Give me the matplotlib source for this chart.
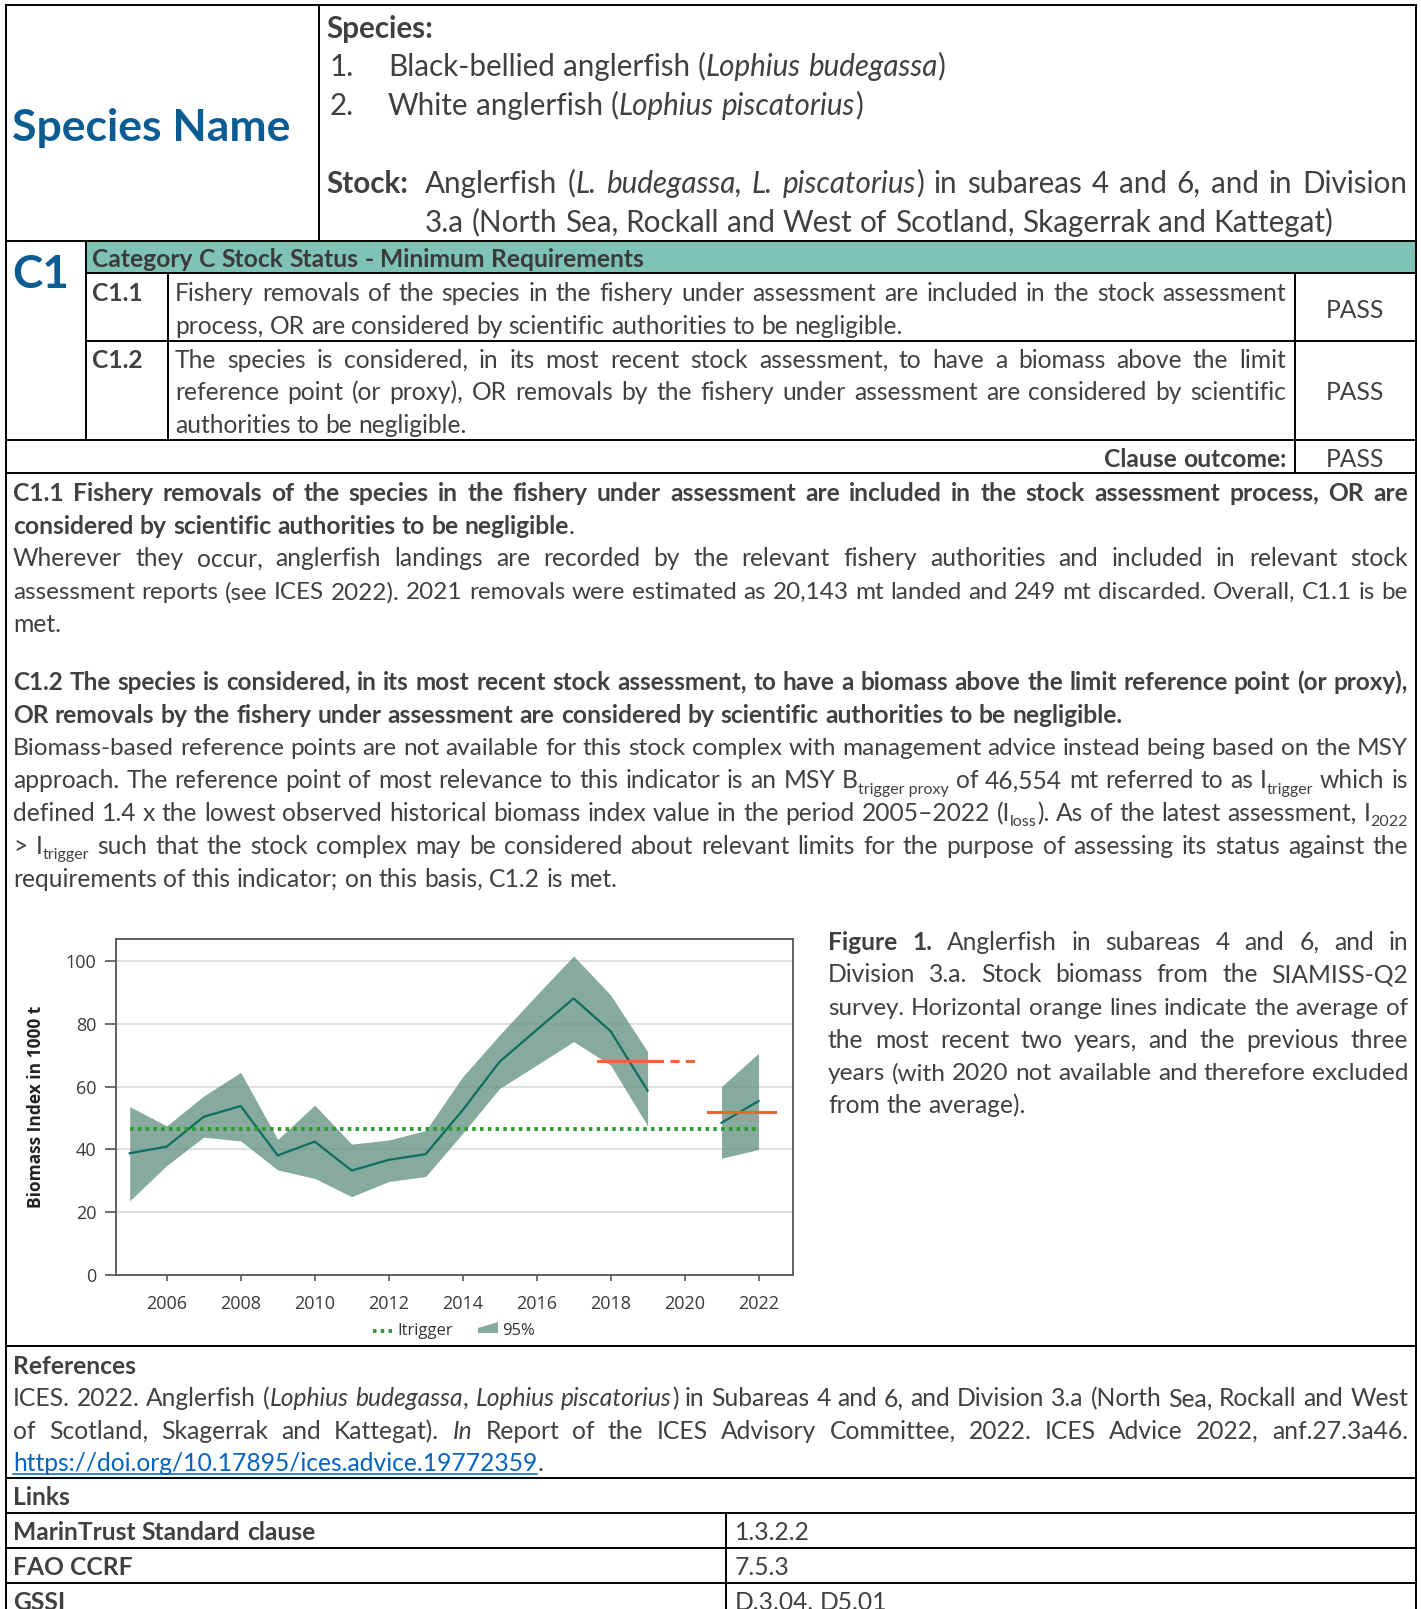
import re
import matplotlib
matplotlib.use('Agg')
import matplotlib.pyplot as plt
from matplotlib.patches import Rectangle, Polygon

W, H = 1421, 1609

# biomass index (1000 t), SIAMISS-Q2 survey
years_a = [2005, 2006, 2007, 2008, 2009, 2010, 2011, 2012, 2013, 2014, 2015, 2016, 2017, 2018, 2019]
index_a = [38.8, 40.9, 50.4, 53.8, 38.1, 42.5, 33.3, 36.7, 38.5, 52.5, 67.9, 78.0, 88.0, 77.6, 58.7]
low_a = [23.7, 34.9, 43.9, 42.7, 33.5, 30.8, 25.0, 29.8, 31.4, 45.1, 59.4, 66.8, 74.3, 66.8, 47.5]
high_a = [53.6, 47.5, 57.0, 64.5, 43.2, 54.1, 41.7, 43.0, 46.0, 63.1, 76.4, 89.1, 101.5, 89.1, 71.1]
years_b = [2021, 2022]
index_b = [48.5, 55.4]
low_b = [37.2, 40.0]
high_b = [60.0, 70.6]

itrigger = 46.554
trigger_years = [2005, 2022]
avg_prev = 68.2
avg_prev_x = [2017.65, 2019.4]
avg_prev_ext = [2019.6, 2020.35]
avg_last = 52.0
avg_last_x = [2020.63, 2022.44]

year_ticks = [2006, 2008, 2010, 2012, 2014, 2016, 2018, 2020, 2022]
index_ticks = [0, 20, 40, 60, 80, 100]

TXT = '#404040'
BLUE = '#0B5C92'
LINK = '#0563C1'
TEAL = '#7FC3B6'
BAND = '#5E8F7E'
LINE = '#0F6E5E'
GREEN = '#2E9A2E'
ORANGE = '#EC6536'
FONT = 'Lato'
BODY = 17.7
HS = 21.3

plt.rcParams['font.family'] = ['Open Sans', 'DejaVu Sans']

fig = plt.figure(figsize=(W / 100, H / 100), dpi=100)
page = fig.add_axes([0, 0, 1, 1])
page.set_xlim(0, W)
page.set_ylim(H, 0)
page.axis('off')
R = fig.canvas.get_renderer()


def parse(s):
    segs, pos = [], 0
    for m in re.finditer(r'\{(\w):([^}]*)\}', s):
        if m.start() > pos:
            segs.append((s[pos:m.start()], 'r'))
        segs.append((m.group(2), m.group(1)))
        pos = m.end()
    if pos < len(s):
        segs.append((s[pos:], 'r'))
    return segs


def words_of(segs):
    words = [[]]
    for txt, st in segs:
        if st == 's':
            words[-1].append((txt, st))
            continue
        for k, p in enumerate(txt.split(' ')):
            if k > 0:
                words.append([])
            if p:
                words[-1].append((p, st))
    return [w for w in words if w]


def mk(txt, st, size, color=TXT):
    kw = dict(fontsize=size, color=color, family=FONT, va='baseline', ha='left')
    if st == 'b':
        kw['fontweight'] = 'bold'
    if st == 'i':
        kw['fontstyle'] = 'italic'
    if st == 's':
        kw['fontsize'] = size * 0.65
    if st == 'u':
        kw['color'] = LINK
    return page.text(0, 0, txt, **kw)


def space_w(size):
    a = mk('a a', 'r', size)
    b = mk('aa', 'r', size)
    w = a.get_window_extent(R).width - b.get_window_extent(R).width
    a.remove()
    b.remove()
    return w


def line(x0, y, s, size=BODY, x1=None, justify=False, ha='left', color=TXT):
    ws = words_of(parse(s))
    rows, widths = [], []
    for w in ws:
        row = []
        for txt, st in w:
            t = mk(txt, st, size, color)
            row.append([t, st, t.get_window_extent(R).width])
        rows.append(row)
        widths.append(sum(r[2] for r in row))
    sp = space_w(size)
    nat = sum(widths) + sp * (len(ws) - 1)
    k = 1.0
    if justify and nat > x1 - x0:
        k = (x1 - x0) / nat * 0.995
        for row in rows:
            for r in row:
                r[0].set_fontsize(r[0].get_fontsize() * k)
                r[2] *= k
        widths = [w * k for w in widths]
        sp *= k
    gap = sp
    if justify and len(ws) > 1:
        gap = (x1 - x0 - sum(widths)) / (len(ws) - 1)
    total = sum(widths) + gap * (len(ws) - 1)
    x = x0 if ha == 'left' else x1 - total
    for row in rows:
        for t, st, wd in row:
            dy = size * k * 0.22 * 100 / 72 if st == 's' else 0
            t.set_position((x, y + dy))
            if st == 'u':
                page.plot([x, x + wd], [y + 3, y + 3], color=LINK, lw=1.1)
            x += wd
        x += gap


def hline(y, x0=6, x1=1416):
    page.plot([x0, x1], [y, y], color='black', lw=1.4, solid_capstyle='projecting')


def vline(x, y0, y1):
    page.plot([x, x], [y0, y1], color='black', lw=1.4, solid_capstyle='projecting')


# table frame
page.add_patch(Rectangle((86, 242), 1330, 31, facecolor=TEAL, edgecolor='none'))
for y in [5, 241, 440, 473, 1346, 1478, 1513, 1548, 1583]:
    hline(y)
hline(273, 86)
hline(341, 86)
vline(6, 5, H)
vline(1416, 5, H)
vline(319, 5, 241)
vline(86, 241, 440)
vline(168, 273, 440)
vline(1295, 273, 473)
vline(726, 1513, H)

# header
page.text(12, 141, 'Species Name', fontsize=32, fontweight='bold', color=BLUE, family=FONT, va='baseline')
line(326, 37.5, '{b:Species:}', HS)
line(330, 75.5, '1.', HS)
line(388, 75.5, 'Black-bellied anglerfish ({i:Lophius budegassa})', HS)
line(330, 114.5, '2.', HS)
line(388, 114.5, 'White anglerfish ({i:Lophius piscatorius})', HS)
line(326, 192.5, '{b:Stock:}', HS)
line(425, 192.5, 'Anglerfish ({i:L. budegassa, L. piscatorius}) in subareas 4 and 6, and in Division', HS, 1407, True)
line(425, 231.5, '3.a (North Sea, Rockall and West of Scotland, Skagerrak and Kattegat)', HS)

# C1 block
page.text(12, 288, 'C1', fontsize=33, fontweight='bold', color=BLUE, family=FONT, va='baseline')
line(92, 267, '{b:Category C Stock Status - Minimum Requirements}', BODY, color='#3A3A3A')
line(92, 301, '{b:C1.1}')
line(175, 301, 'Fishery removals of the species in the fishery under assessment are included in the stock assessment', BODY, 1286, True)
line(175, 334, 'process, OR are considered by scientific authorities to be negligible.')
line(92, 367.5, '{b:C1.2}')
line(175, 367.5, 'The species is considered, in its most recent stock assessment, to have a biomass above the limit', BODY, 1286, True)
line(175, 400, 'reference point (or proxy), OR removals by the fishery under assessment are considered by scientific', BODY, 1286, True)
line(175, 432.5, 'authorities to be negligible.')
for yb in [317.5, 400, 466.5]:
    page.text(1355, yb, 'PASS', fontsize=BODY, color=TXT, family=FONT, va='baseline', ha='center')
line(0, 466.5, '{b:Clause outcome:}', BODY, 1286, ha='right')

# assessment text
L0, L1 = 13, 1408
body_a = [
    ('{b:C1.1 Fishery removals of the species in the fishery under assessment are included in the stock assessment process, OR are}', True),
    ('{b:considered by scientific authorities to be negligible}.', False),
    ('Wherever they occur, anglerfish landings are recorded by the relevant fishery authorities and included in relevant stock', True),
    ('assessment reports (see ICES 2022). 2021 removals were estimated as 20,143 mt landed and 249 mt discarded. Overall, C1.1 is be', True),
    ('met.', False),
]
body_b = [
    ('{b:C1.2 The species is considered, in its most recent stock assessment, to have a biomass above the limit reference point (or proxy),}', True),
    ('{b:OR removals by the fishery under assessment are considered by scientific authorities to be negligible.}', False),
    ('Biomass-based reference points are not available for this stock complex with management advice instead being based on the MSY', True),
    ('approach. The reference point of most relevance to this indicator is an MSY B{s:trigger proxy} of 46,554 mt referred to as I{s:trigger} which is', True),
    ('defined 1.4 x the lowest observed historical biomass index value in the period 2005\u20132022 (I{s:loss}). As of the latest assessment, I{s:2022}', True),
    ('> I{s:trigger} such that the stock complex may be considered about relevant limits for the purpose of assessing its status against the', True),
    ('requirements of this indicator; on this basis, C1.2 is met.', False),
]
for i, (s, j) in enumerate(body_a):
    line(L0, 500.8 + i * 32.8, s, BODY, L1, j)
for i, (s, j) in enumerate(body_b):
    line(L0, 689.8 + i * 32.8, s, BODY, L1, j)

caption = [
    ('{b:Figure 1.} Anglerfish in subareas 4 and 6, and in', True),
    ('Division 3.a. Stock biomass from the SIAMISS-Q2', True),
    ('survey. Horizontal orange lines indicate the average of', True),
    ('the most recent two years, and the previous three', True),
    ('years (with 2020 not available and therefore excluded', True),
    ('from the average).', False),
]
for i, (s, j) in enumerate(caption):
    line(828, 949.8 + i * 32.6, s, BODY, L1, j)

refs = [
    ('{b:References}', False),
    ('ICES. 2022. Anglerfish ({i:Lophius budegassa}, {i:Lophius piscatorius}) in Subareas 4 and 6, and Division 3.a (North Sea, Rockall and West', True),
    ('of Scotland, Skagerrak and Kattegat). {i:In} Report of the ICES Advisory Committee, 2022. ICES Advice 2022, anf.27.3a46.', True),
    ('{u:https://doi.org/10.17895/ices.advice.19772359}.', False),
]
for i, (s, j) in enumerate(refs):
    line(L0, 1373.8 + i * 32.5, s, BODY, L1, j)

line(L0, 1504.8, '{b:Links}')
links = [('MarinTrust Standard clause', '1.3.2.2'), ('FAO CCRF', '7.5.3'), ('GSSI', 'D.3.04, D5.01')]
for i, (a, b) in enumerate(links):
    line(L0, 1539.8 + i * 35, '{b:' + a + '}')
    line(735, 1539.8 + i * 35, b)

# chart
ax = fig.add_axes([115.7 / W, 1 - 1275.3 / H, (793.3 - 115.7) / W, (1275.3 - 939) / H])
ax.set_xlim(2004.62, 2022.94)
ax.set_ylim(0, 106.9)
ax.fill_between(years_a, low_a, high_a, color=BAND, alpha=0.75, lw=0, zorder=2)
ax.fill_between(years_b, low_b, high_b, color=BAND, alpha=0.75, lw=0, zorder=2)
ax.plot(years_a, index_a, color=LINE, lw=1.6, zorder=3)
ax.plot(years_b, index_b, color=LINE, lw=1.6, zorder=3)
ax.plot(trigger_years, [itrigger, itrigger], color=GREEN, lw=2.8, ls=(0, (0.9, 1.1)), zorder=4)
ax.plot(avg_prev_x, [avg_prev, avg_prev], color=ORANGE, lw=2.2, zorder=5)
ax.plot(avg_prev_ext, [avg_prev, avg_prev], color=ORANGE, lw=2.2, ls=(0, (3, 2)), zorder=5)
ax.plot(avg_last_x, [avg_last, avg_last], color=ORANGE, lw=2.2, zorder=5)
ax.set_xticks(year_ticks)
ax.set_yticks(index_ticks)
ax.grid(axis='y', color='#DCDCDC', lw=1.2)
ax.set_axisbelow(True)
for s in ax.spines.values():
    s.set_color('#555555')
    s.set_linewidth(1.3)
ax.tick_params(axis='y', length=8, width=1.2, pad=6, color='#555555', labelcolor='#3A3A3A', labelsize=13)
ax.tick_params(axis='x', length=4, width=1.2, pad=10, color='#555555', labelcolor='#3A3A3A', labelsize=13)
ax.set_ylabel('Biomass Index in 1000 t', fontsize=12.5, fontweight='bold', color='#222222')
ax.yaxis.set_label_coords(-0.105, 0.5)

# legend under the chart
page.plot([373, 393], [1331, 1331], color=GREEN, lw=2.8, ls=(0, (0.9, 1.1)))
page.text(397, 1331, 'Itrigger', fontsize=12, color='#333333', va='center')
page.add_patch(Polygon([(478, 1333), (498, 1333), (498, 1322), (478, 1328)], closed=True,
                       facecolor=BAND, alpha=0.75, edgecolor='none'))
page.text(502, 1331, '95%', fontsize=12, color='#333333', va='center')

fig.savefig('out.png', dpi=100)
